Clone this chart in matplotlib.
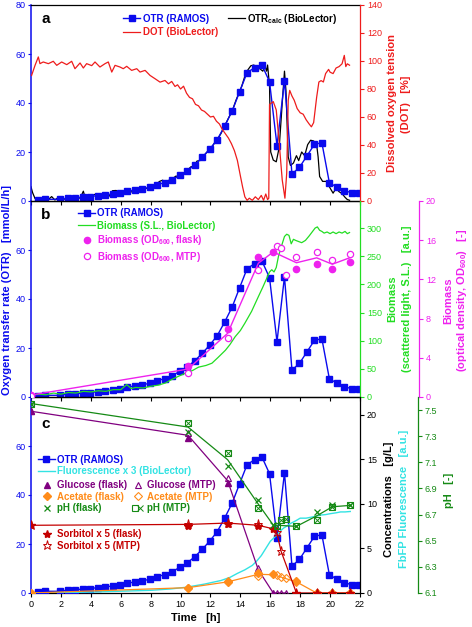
import matplotlib
matplotlib.use('Agg')
import matplotlib.pyplot as plt
import numpy as np
from matplotlib.lines import Line2D
from matplotlib.legend_handler import HandlerTuple

plt.rcParams['font.family'] = ['Liberation Sans', 'DejaVu Sans']
plt.rcParams['mathtext.fontset'] = 'custom'
plt.rcParams['mathtext.rm'] = 'Liberation Sans'
plt.rcParams['mathtext.bf'] = 'Liberation Sans:bold'
plt.rcParams['font.size'] = 6.5

# ---------------- data ----------------
otr_t = [0.45, 0.95, 1.95, 2.45, 2.95, 3.45, 3.95, 4.45, 4.95, 5.45, 5.95, 6.45, 6.95, 7.45, 7.95,
         8.45, 8.95, 9.45, 9.95, 10.45, 10.95, 11.45, 11.95, 12.45, 12.95, 13.45, 13.95, 14.45,
         14.95, 15.45, 15.95, 16.45, 16.95, 17.45, 17.95, 18.45, 18.95, 19.45, 19.95, 20.45,
         20.95, 21.45, 21.95]
otr = [0.4, 0.7, 0.7, 1.2, 1.3, 1.6, 1.8, 2.2, 2.4, 2.9, 3.4, 4.0, 4.5, 5.0, 5.6, 6.7, 7.5, 8.7,
       10.5, 12.3, 14.8, 17.8, 21.2, 25.0, 30.6, 36.7, 44.6, 52.4, 54.4, 55.4, 48.7, 22.6, 49.1,
       11.0, 13.7, 18.4, 23.1, 23.8, 7.5, 5.6, 4.2, 3.4, 3.1]

otrcalc_t = [0.0, 0.1, 0.27, 0.5, 0.8, 1.0, 1.2, 1.38, 1.6, 1.83, 2.05, 2.3, 2.5, 2.7, 2.9, 3.1,
             3.3, 3.5, 3.6, 3.8, 4.1, 4.4, 4.6, 4.9, 5.1, 5.3, 5.45, 5.7, 5.9, 6.2, 6.4, 6.6, 6.8,
             7.0, 7.3, 7.5, 7.7, 8.0, 8.2, 8.4, 8.6, 8.8, 9.0, 9.2, 9.5, 9.7, 9.9, 10.1, 10.3,
             10.5, 10.7, 10.9, 11.1, 11.3, 11.5, 11.7, 11.9, 12.1, 12.3, 12.5, 12.7, 12.9, 13.1,
             13.3, 13.5, 13.7, 13.9, 14.1, 14.3, 14.5, 14.7, 14.9, 15.1, 15.3, 15.5, 15.65, 15.75,
             15.82, 15.95, 16.03, 16.2, 16.4, 16.6, 16.8, 16.95, 17.05, 17.2, 17.35, 17.55, 17.75,
             17.9, 18.1, 18.3, 18.5, 18.7, 18.9, 19.1, 19.2, 19.3, 19.5, 19.75, 19.95, 20.2, 20.4,
             20.6, 20.8, 21.0, 21.15, 21.3]
otrcalc = [5.8, 3.5, 1.0, 0.4, 0.5, 0.3, 0.8, 1.8, 0.4, 1.5, 0.4, 0.9, 0.6, 1.1, 1.8, 1.0, 1.3,
           4.0, 1.8, 1.6, 2.4, 2.9, 1.6, 3.4, 1.2, 2.5, 4.2, 4.3, 3.0, 3.5, 3.2, 3.8, 3.7, 4.1, 4.5,
           5.3, 5.1, 5.8, 6.0, 7.0, 8.0, 8.5, 7.6, 8.4, 9.3, 10.2, 9.6, 11.0, 11.5, 12.8, 14.0,
           14.2, 16.3, 16.5, 18.0, 19.5, 20.8, 22.0, 24.0, 25.5, 27.5, 30.0, 32.5, 35.0, 37.5,
           41.0, 44.0, 47.0, 51.0, 53.5, 55.2, 55.5, 54.5, 54.0, 53.0, 55.0, 53.0, 55.5, 47.0,
           20.0, 16.7, 16.0, 22.0, 40.0, 53.0, 45.0, 18.0, 14.5, 15.5, 18.5, 16.5, 20.0, 18.5,
           23.0, 24.8, 24.5, 23.0, 18.0, 10.0, 8.0, 8.0, 5.8, 3.2, 5.2, 3.8, 3.0, 1.5, 0.6, 0.3]

dot_t = [0.04, 0.27, 0.49, 0.60, 0.82, 1.16, 1.49, 1.72, 2.05, 2.39, 2.72, 2.94, 3.28, 3.5, 3.72,
         4.06, 4.28, 4.61, 4.95, 5.17, 5.4, 5.62, 5.95, 6.17, 6.4, 6.73, 7.07, 7.29, 7.63, 7.96,
         8.3, 8.63, 8.96, 9.19, 9.41, 9.63, 9.8, 10.0, 10.2, 10.4, 10.6, 10.8, 11.0, 11.2, 11.4,
         11.6, 11.8, 12.0, 12.2, 12.4, 12.6, 12.8, 13.0, 13.2, 13.4, 13.6, 13.8, 14.0, 14.15,
         14.3, 14.45, 14.6, 14.8, 15.0, 15.2, 15.4, 15.55, 15.7, 15.82, 15.9, 15.95, 16.2, 16.4,
         16.6, 16.8, 16.98, 17.1, 17.2, 17.3, 17.45, 17.6, 17.8, 18.0, 18.2, 18.4, 18.6, 18.75,
         18.9, 19.0, 19.1, 19.25, 19.4, 19.55, 19.7, 19.9, 20.0, 20.2, 20.4, 20.6, 20.8, 20.95,
         21.05, 21.15, 21.3]
dot = [89.7, 96.9, 102.9, 98.1, 99.3, 98.1, 99.8, 96.9, 99.3, 97.4, 99.8, 94.5, 98.6, 95.0, 98.1,
       96.7, 99.3, 95.7, 98.1, 99.3, 92.1, 96.9, 95.7, 94.5, 96.2, 93.3, 94.5, 92.1, 93.3, 89.7,
       87.3, 84.9, 86.1, 83.7, 85.4, 81.8, 83.0, 80.0, 82.0, 77.0, 74.0, 73.0, 69.0, 68.0, 65.0,
       64.0, 62.0, 60.0, 60.5, 57.0, 55.0, 51.0, 48.0, 45.0, 41.0, 36.0, 29.0, 18.0, 10.0,
       3.0, 0.5, 2.0, 0.5, 3.0, 1.0, 4.0, 0.5, 5.0, 1.0, 2.0, 69.0, 71.0, 65.0,
       41.0, 15.0, 2.0, 20.0, 72.0, 79.0, 75.0, 72.0, 66.0, 63.0, 62.0, 58.0, 55.0, 53.0,
       56.0, 65.0, 74.0, 85.0, 86.0, 85.0, 91.0, 94.0, 92.0, 91.0, 95.0, 96.0, 98.0, 104.0,
       96.0, 98.0, 97.0]

sl_t = [0.0, 0.5, 1.0, 1.5, 2.0, 2.5, 3.0, 3.5, 4.0, 4.5, 5.0, 5.5, 6.0, 6.4, 6.7, 7.0, 7.5, 8.0,
        8.5, 9.0, 9.4, 9.8, 10.3, 10.8, 11.2, 11.7, 12.1, 12.5, 13.0, 13.3, 13.65, 14.0, 14.3,
        14.75, 15.2, 15.5, 15.75, 15.95, 16.1, 16.25, 16.4, 16.55, 16.75, 16.95, 17.1, 17.25,
        17.4, 17.55, 17.7, 17.9, 18.1, 18.35, 18.6, 18.8, 19.0, 19.15, 19.3, 19.45, 19.6, 19.8,
        20.0, 20.2, 20.4, 20.6, 20.8, 21.0, 21.15, 21.3]
sl = [3, 5, 4, 7, 5, 8, 7, 10, 9, 11, 10, 13, 13, 22, 15, 17, 16, 19, 21, 25, 31, 36, 42, 47, 53,
      56, 60, 70, 83, 93, 107, 118, 131, 152, 178, 195, 210, 222, 226, 222, 230, 250, 268, 285,
      289, 287, 272, 280, 278, 276, 274, 278, 286, 293, 300, 302, 296, 294, 291, 293, 290, 293,
      290, 293, 291, 294, 290, 292]

flask_t = [0.0, 10.5, 13.15, 15.2, 16.2, 17.75, 19.1, 20.15, 21.3]
mtp_t = [0.0, 10.5, 13.15, 15.2, 16.43, 16.72, 17.06, 17.75, 19.1, 20.15, 21.3]

od_flask = [0.2, 3.2, 6.9, 14.3, 14.8, 13.1, 13.6, 13.1, 13.8]
od_mtp = [0.15, 2.5, 6.05, 13.0, 15.4, 15.2, 12.4, 14.3, 14.8, 14.0, 14.6]
od_mean = [0.2, 2.85, 6.5, 13.65, 14.8, 13.7, 14.2, 13.55, 14.2]

glc_flask_t = [0.0, 10.5, 13.15, 15.2, 16.2]
glc_flask = [20.4, 17.4, 12.3, 2.4, 0.0]
glc_mtp_t = [0.0, 10.5, 13.15, 15.2, 16.43, 16.72, 17.06]
glc_mtp = [20.4, 18.0, 12.9, 2.8, 0.0, 0.0, 0.0]
glc_line_t = [0.0, 10.5, 13.15, 15.2, 16.2, 16.43, 16.72, 17.06]
glc_line = [20.4, 17.7, 12.6, 2.6, 0.0, 0.0, 0.0, 0.0]

ace_flask = [0.0, 0.6, 1.2, 2.3, 2.1, 1.3, 0.0, 0.0, 0.0]
ace_mtp = [0.0, 0.6, 1.3, 1.9, 2.0, 1.8, 1.65, 1.2, 0.0, 0.0, 0.0]
ace_line = [0.0, 0.6, 1.25, 2.1, 2.05, 1.25, 0.0, 0.0, 0.0]

sor_flask = [7.6, 7.5, 7.8, 7.5, 7.2, 0.0, 0.0, 0.0, 0.0]
sor_mtp_t = [0.0, 10.5, 13.15, 15.2, 16.43, 16.72, 17.75, 19.1, 20.15, 21.3]
sor_mtp = [7.6, 7.8, 7.9, 7.7, 6.8, 4.7, 0.0, 0.0, 0.0, 0.0]
sor_line_t = [0.0, 10.5, 13.15, 15.2, 16.2, 16.43, 16.72, 17.75, 19.1, 20.15, 21.3]
sor_line = [7.6, 7.7, 7.85, 7.6, 7.2, 6.8, 4.7, 0.0, 0.0, 0.0, 0.0]

ph_flask = [7.55, 7.33, 7.07, 6.81, 6.62, 6.61, 6.72, 6.77, 6.77]
ph_mtp = [7.55, 7.40, 7.17, 6.75, 6.61, 6.66, 6.67, 6.61, 6.66, 6.76, 6.77]
ph_line = [7.55, 7.37, 7.12, 6.78, 6.62, 6.61, 6.69, 6.76, 6.77]

fl_t = [0, 2, 4, 6, 8, 9.3, 10.4, 11.6, 12.7, 13.3, 13.8, 14.3, 14.8, 15.1, 15.4, 15.7, 16.0,
        16.25, 16.5, 16.7, 16.9, 17.1, 17.35, 17.7, 18.0, 18.4, 18.7, 19.0, 19.35, 19.7, 20.0,
        20.4, 20.7, 21.0, 21.35]
fl = [0.0, 0.05, 0.1, 0.2, 0.3, 0.45, 0.65, 1.0, 1.4, 1.75, 2.2, 2.6, 3.1, 3.6, 4.2, 5.0, 5.8,
      6.2, 6.6, 7.0, 7.3, 7.5, 7.8, 8.1, 8.4, 8.4, 8.5, 8.6, 8.75, 8.8, 8.9, 9.0, 9.1, 9.1, 9.15]

x_ticks = list(range(0, 23, 2))

# ---------------- style ----------------
BLUE = '#0a0aee'
RED = '#ee1c1c'
GREEN_SL = '#22dd22'
MAGENTA = '#ee22ee'
PURPLE = '#800080'
ORANGE = '#ff8c1a'
DKGREEN = '#158a15'
DKRED = '#c40000'
CYAN = '#33e3e3'

W, H = 472, 627
fig = plt.figure(figsize=(W / 100, H / 100), dpi=100)
L, R = 31, 360


def rect(top, bottom):
    return [L / W, 1 - bottom / H, (R - L) / W, (bottom - top) / H]


axa = fig.add_axes(rect(5, 201))
axb = fig.add_axes(rect(201, 397))
axc = fig.add_axes(rect(397, 593))

LEGFS = 7
LABFS = 8


def style_main(ax, yt, labels_x):
    ax.set_facecolor('none')
    ax.set_xlim(0, 22)
    ax.set_ylim(0, 80)
    ax.set_xticks(x_ticks)
    ax.set_yticks(yt)
    ax.tick_params(axis='x', direction='out', length=3, width=0.8, labelsize=6.5, pad=2,
                   labelbottom=labels_x, colors='k')
    ax.tick_params(axis='y', direction='out', length=2.5, width=0.8, labelsize=6.5, pad=1.2,
                   colors=BLUE)
    ax.spines['left'].set_color(BLUE)
    for s in ax.spines.values():
        s.set_linewidth(0.9)
    ax.spines['left'].set_linewidth(1.1)
    ax.spines['right'].set_visible(False)


def style_twin(ax, color, pos=None):
    for s in ['left', 'top', 'bottom']:
        ax.spines[s].set_visible(False)
    ax.spines['right'].set_color(color)
    ax.spines['right'].set_linewidth(0.9)
    if pos is not None:
        ax.spines['right'].set_position(('axes', pos))
    ax.tick_params(axis='y', direction='out', length=3, width=0.8, labelsize=6.5, pad=2,
                   colors=color)


def color_legend(leg, colors):
    for txt, c in zip(leg.get_texts(), colors):
        txt.set_color(c)
        txt.set_fontweight('bold')


sq = dict(marker='s', ms=4, mfc=BLUE, mec=BLUE)

# ---------------- panel a ----------------
style_main(axa, [0, 20, 40, 60, 80], False)
h_calc, = axa.plot(otrcalc_t, otrcalc, color='k', lw=0.9)
h_otr_a, = axa.plot(otr_t, otr, color=BLUE, lw=1.0, **sq)
axa2 = axa.twinx()
style_twin(axa2, RED)
h_dot, = axa2.plot(dot_t, dot, color=RED, lw=0.9)
axa2.set_ylim(0, 140)
axa2.set_yticks(range(0, 141, 20))
leg = axa.legend([h_otr_a, h_dot, h_calc],
                 ['OTR (RAMOS)', 'DOT (BioLector)', r'OTR$_{\mathbf{calc}}$ (BioLector)'],
                 ncol=2, loc='upper left', bbox_to_anchor=(0.280, 0.965), frameon=False,
                 fontsize=LEGFS, handlelength=1.75, handletextpad=0.25, columnspacing=1.0,
                 labelspacing=0.35, borderpad=0, borderaxespad=0)
color_legend(leg, [BLUE, RED, 'k'])
axa.text(0.045, 0.93, 'a', transform=axa.transAxes, fontsize=11, fontweight='bold',
         ha='center', va='center')

# ---------------- panel b ----------------
style_main(axb, [0, 20, 40, 60], False)
h_otr_b, = axb.plot(otr_t, otr, color=BLUE, lw=1.0, **sq)
axb2 = axb.twinx()
style_twin(axb2, GREEN_SL)
h_sl, = axb2.plot(sl_t, sl, color=GREEN_SL, lw=0.9)
axb2.set_ylim(0, 348)
axb2.set_yticks(range(0, 301, 50))
axb3 = axb.twinx()
style_twin(axb3, MAGENTA, 1 + 59 / 329)
axb3.plot(flask_t, od_mean, color=MAGENTA, lw=1.0)
h_odf, = axb3.plot(flask_t, od_flask, ls='none', marker='o', ms=4.5, mfc=MAGENTA, mec=MAGENTA)
h_odm, = axb3.plot(mtp_t, od_mtp, ls='none', marker='o', ms=4.5, mfc='white', mec=MAGENTA,
                   mew=0.9)
axb3.set_ylim(0, 20)
axb3.set_yticks(range(0, 21, 4))
leg = axb.legend([h_otr_b, h_sl, h_odf, h_odm],
                 ['OTR (RAMOS)', 'Biomass (S.L., BioLector)',
                  r'Biomass (OD$_{\mathbf{600}}$, flask)', r'Biomass (OD$_{\mathbf{600}}$, MTP)'],
                 loc='upper left', bbox_to_anchor=(0.143, 0.962), frameon=False,
                 fontsize=LEGFS, handlelength=1.75, handletextpad=0.25,
                 labelspacing=0.25, borderpad=0, borderaxespad=0)
color_legend(leg, [BLUE, GREEN_SL, MAGENTA, MAGENTA])
axb.text(0.045, 0.93, 'b', transform=axb.transAxes, fontsize=11, fontweight='bold',
         ha='center', va='center')

# ---------------- panel c ----------------
style_main(axc, [0, 20, 40, 60], True)
h_otr_c, = axc.plot(otr_t, otr, color=BLUE, lw=1.0, zorder=3, **sq)
axc2 = axc.twinx()
style_twin(axc2, 'k')
h_fl, = axc2.plot(fl_t, fl, color=CYAN, lw=1.0)
axc2.plot(glc_line_t, glc_line, color=PURPLE, lw=0.9)
h_gf, = axc2.plot(glc_flask_t, glc_flask, ls='none', marker='^', ms=5, mfc=PURPLE, mec=PURPLE)
h_gm, = axc2.plot(glc_mtp_t, glc_mtp, ls='none', marker='^', ms=5, mfc='none', mec=PURPLE,
                  mew=0.8)
axc2.plot(flask_t, ace_line, color=ORANGE, lw=0.9)
h_af, = axc2.plot(flask_t, ace_flask, ls='none', marker='D', ms=4, mfc=ORANGE, mec=ORANGE)
h_am, = axc2.plot(mtp_t, ace_mtp, ls='none', marker='D', ms=4, mfc='none', mec=ORANGE, mew=0.8)
axc2.plot(sor_line_t, sor_line, color=DKRED, lw=0.9)
h_sf, = axc2.plot(flask_t, sor_flask, ls='none', marker='*', ms=6, mfc=DKRED, mec=DKRED)
h_sm, = axc2.plot(sor_mtp_t, sor_mtp, ls='none', marker='*', ms=6.5, mfc='none', mec=DKRED,
                  mew=0.7)
axc2.set_ylim(0, 22)
axc2.set_yticks(range(0, 21, 5))
axc3 = axc.twinx()
style_twin(axc3, DKGREEN, 1 + 58 / 329)
axc3.plot(flask_t, ph_line, color=DKGREEN, lw=0.9)
h_pf, = axc3.plot(flask_t, ph_flask, ls='none', marker='x', ms=5, mec=DKGREEN, mew=0.9)
h_pm1, = axc3.plot(mtp_t, ph_mtp, ls='none', marker='s', ms=5, mfc='none', mec=DKGREEN, mew=0.8)
h_pm2, = axc3.plot(mtp_t, ph_mtp, ls='none', marker='x', ms=4, mec=DKGREEN, mew=0.7)
axc3.set_ylim(6.1, 7.6)
ph_ticks = [6.1, 6.3, 6.5, 6.7, 6.9, 7.1, 7.3, 7.5]
axc3.set_yticks(ph_ticks)
axc3.set_yticklabels(['%.1f' % v for v in ph_ticks])

leg1 = axc.legend([h_otr_c, h_fl], ['OTR (RAMOS)', 'Fluorescence x 3 (BioLector)'],
                  loc='upper left', bbox_to_anchor=(0.021, 0.705), frameon=False,
                  fontsize=LEGFS, handlelength=1.75, handletextpad=0.25, labelspacing=0.15,
                  borderpad=0, borderaxespad=0)
color_legend(leg1, [BLUE, CYAN])
axc.add_artist(leg1)
leg2 = axc.legend([h_gf, h_af, h_pf, h_gm, h_am, (h_pm1, h_pm2)],
                  ['Glucose (flask)', 'Acetate (flask)', 'pH (flask)',
                   'Glucose (MTP)', 'Acetate (MTP)', 'pH (MTP)'],
                  handler_map={tuple: HandlerTuple(ndivide=None, pad=0)},
                  ncol=2, loc='upper left', bbox_to_anchor=(0.034, 0.575), frameon=False,
                  fontsize=LEGFS, handlelength=1.0, handletextpad=0.5, labelspacing=0.15,
                  columnspacing=0.6, borderpad=0, borderaxespad=0)
color_legend(leg2, [PURPLE, ORANGE, DKGREEN, PURPLE, ORANGE, DKGREEN])
axc.add_artist(leg2)
leg3 = axc.legend([h_sf, h_sm], ['Sorbitol x 5 (flask)', 'Sorbitol x 5 (MTP)'],
                  loc='upper left', bbox_to_anchor=(0.034, 0.325), frameon=False,
                  fontsize=LEGFS, handlelength=1.0, handletextpad=0.5, labelspacing=0.15,
                  borderpad=0, borderaxespad=0)
color_legend(leg3, [DKRED, DKRED])
axc.text(0.045, 0.86, 'c', transform=axc.transAxes, fontsize=11, fontweight='bold',
         ha='center', va='center')
axc.set_xlabel('Time   [h]', fontsize=LABFS, fontweight='bold', labelpad=3)


# ---------------- axis labels ----------------
def vlabel(xpx, ypx, s, color):
    fig.text(xpx / W, 1 - ypx / H, s, rotation=90, ha='center', va='center', color=color,
             fontsize=LABFS, fontweight='bold')


vlabel(7.5, 290, 'Oxygen transfer rate (OTR)   [mmol/L/h]', BLUE)
vlabel(392, 103, 'Dissolved oxygen tension', RED)
vlabel(406, 104, '(DOT)   [%]', RED)
vlabel(392, 299, 'Biomass', GREEN_SL)
vlabel(407, 299, '(scattered light, S.L.)   [a.u.]', GREEN_SL)
vlabel(448, 301, 'Biomass', MAGENTA)
vlabel(462, 300, r'(optical density, OD$_{\mathbf{600}}$)   [-]', MAGENTA)
vlabel(389, 499, 'Concentrations   [g/L]', 'k')
vlabel(404, 499, 'FbFP Fluorescence   [a.u.]', CYAN)
vlabel(449, 490, 'pH   [-]', DKGREEN)

fig.savefig('out.png', dpi=100)
